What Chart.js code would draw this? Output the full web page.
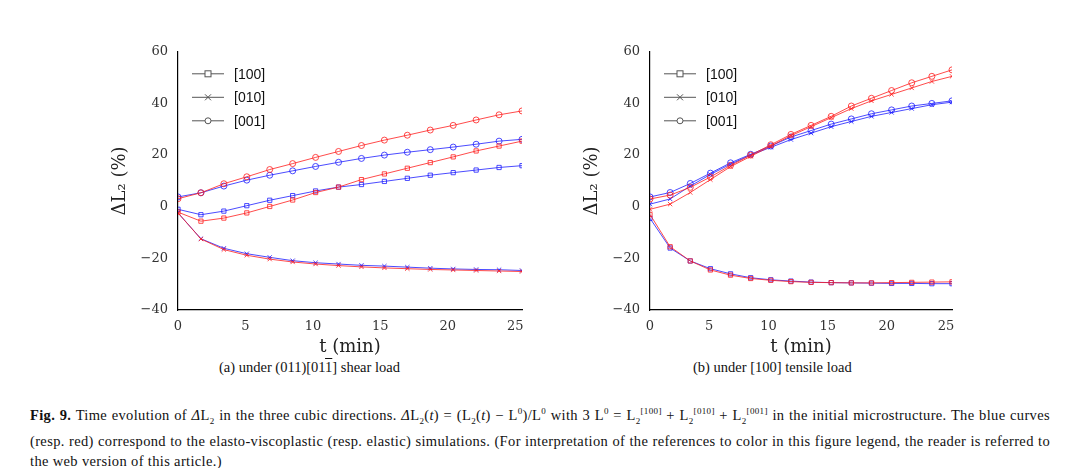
<!DOCTYPE html>
<html>
<head>
<meta charset="utf-8">
<script src="https://cdn.jsdelivr.net/npm/chart.js@4"></script>
<style>
  body { margin: 0; background: #fff; width: 1080px; height: 468px; position: relative; font-family: "Liberation Serif", serif; }
  .box { position: absolute; }
  .sub { position: absolute; font-size: 14.5px; color: #111; }
  .cap { position: absolute; left: 30px; top: 401px; width: 1020px; font-size: 14.5px; letter-spacing: 0.35px; line-height: 20px; color: #111; text-align: justify; }
  sub, sup { font-size: 9px; }
</style>
</head>
<body>
<div class="box" style="left:110px;top:42px;width:420px;height:316px"><canvas id="left"></canvas></div>
<div class="box" style="left:582px;top:42px;width:378px;height:316px"><canvas id="right"></canvas></div>
<div class="sub" style="left:219px;top:359px">(a) under (011)[01<span style="text-decoration:overline">1</span>] shear load</div>
<div class="sub" style="left:693px;top:359px">(b) under [100] tensile load</div>
<div class="cap"><b>Fig. 9.</b> Time evolution of <i>Δ</i>L<sub>2</sub> in the three cubic directions. <i>Δ</i>L<sub>2</sub>(<i>t</i>) = (L<sub>2</sub>(<i>t</i>) − L<sup>0</sup>)/L<sup>0</sup> with 3 L<sup>0</sup> = L<sub>2</sub><sup>[100]</sup> + L<sub>2</sub><sup>[010]</sup> + L<sub>2</sub><sup>[001]</sup> in the initial microstructure. The blue curves (resp. red) correspond to the elasto-viscoplastic (resp. elastic) simulations. (For interpretation of the references to color in this figure legend, the reader is referred to the web version of this article.)</div>
<script>
const times = [0, 1.7, 3.4, 5.1, 6.8, 8.5, 10.2, 11.9, 13.6, 15.3, 17, 18.7, 20.4, 22.1, 23.8, 25.5];

const shear = {
  blue: {
    '[100]': [-1, -3.1, -1.7, 0.4, 2.5, 4.3, 6.1, 7.6, 8.6, 9.8, 11, 12.2, 13.2, 14.2, 15.2, 15.9],
    '[010]': [-2.4, -12.4, -16.1, -18.2, -19.6, -20.9, -21.7, -22.2, -22.7, -23, -23.4, -23.8, -24.1, -24.3, -24.4, -24.7],
    '[001]': [3.8, 5.4, 8, 10.3, 12.2, 13.9, 15.6, 17.2, 18.7, 20, 21.1, 22.1, 23.1, 24.2, 25.4, 26.1]
  },
  red: {
    '[100]': [-2.1, -5.6, -4.4, -2.4, 0.1, 2.6, 5.5, 7.6, 10.5, 12.7, 14.9, 17.1, 19.3, 21.6, 23.5, 25.4],
    '[010]': [-2.4, -12.5, -16.6, -18.8, -20.3, -21.4, -22.2, -22.8, -23.3, -23.7, -24, -24.3, -24.5, -24.7, -24.9, -25.1],
    '[001]': [3.1, 5.4, 8.9, 11.6, 14.4, 16.7, 19.1, 21.4, 23.7, 25.8, 27.7, 29.7, 31.5, 33.6, 35.6, 37.1]
  }
};

const tensile = {
  blue: {
    '[100]': [-4.5, -16, -21, -24, -26, -27.5, -28.3, -28.8, -29.2, -29.4, -29.5, -29.6, -29.7, -29.7, -29.8, -29.8],
    '[010]': [1, 3, 8, 12.5, 16.5, 20, 23, 26, 28.5, 31, 33, 35, 36.5, 38, 39.5, 40.5],
    '[001]': [3.8, 5.5, 9, 13, 17, 20.3, 23.5, 27, 29.5, 32, 34, 36, 37.5, 39, 40, 41]
  },
  red: {
    '[100]': [-3, -15.5, -21, -24.5, -26.5, -27.8, -28.5, -29, -29.3, -29.4, -29.5, -29.5, -29.4, -29.3, -29.2, -29.1],
    '[010]': [-1, 1, 5.5, 10.5, 15.5, 19.5, 23.5, 27.5, 31, 34.5, 38, 41, 43.5, 46, 48.5, 50.5],
    '[001]': [3, 4.5, 7.5, 11.5, 16, 20, 24, 28, 31.5, 35, 39, 42, 45, 48, 50.5, 53]
  }
};

const markers = { '[100]': 'rect', '[010]': 'crossRot', '[001]': 'circle' };
const colors = { blue: 'rgba(30,30,255,0.8)', red: 'rgba(255,30,30,0.8)' };
const serif = '"DejaVu Serif", serif';

// gray legend drawn by hand, like matplotlib's
const legendPlugin = {
  id: 'handLegend',
  afterDraw(chart) {
    const ctx = chart.ctx, a = chart.chartArea;
    ['[100]', '[010]', '[001]'].forEach((name, i) => {
      const y = a.top + 22 + i * 23.5;
      const x0 = a.left + 14, x1 = a.left + 46, xm = (x0 + x1) / 2;
      ctx.save();
      ctx.strokeStyle = '#555';
      ctx.lineWidth = 1;
      ctx.beginPath(); ctx.moveTo(x0, y); ctx.lineTo(x1, y); ctx.stroke();
      ctx.fillStyle = '#fff';
      if (markers[name] === 'rect') { ctx.fillRect(xm - 3, y - 3, 6, 6); ctx.strokeRect(xm - 3, y - 3, 6, 6); }
      else if (markers[name] === 'circle') { ctx.beginPath(); ctx.arc(xm, y, 3, 0, Math.PI * 2); ctx.fill(); ctx.stroke(); }
      else { ctx.beginPath(); ctx.moveTo(xm - 3, y - 3); ctx.lineTo(xm + 3, y + 3); ctx.moveTo(xm + 3, y - 3); ctx.lineTo(xm - 3, y + 3); ctx.stroke(); }
      ctx.fillStyle = '#111';
      ctx.font = '14px "Liberation Sans", sans-serif';
      ctx.textBaseline = 'middle';
      ctx.fillText(name, a.left + 56, y + 1);
      ctx.restore();
    });
  }
};

function makeChart(id, set) {
  const datasets = [];
  ['red', 'blue'].forEach(c => {
    Object.keys(set[c]).forEach(name => {
      datasets.push({
        data: set[c][name].map((v, i) => ({ x: times[i], y: v })),
        borderColor: colors[c],
        backgroundColor: 'rgba(0,0,0,0)',
        borderWidth: 1,
        pointStyle: markers[name],
        pointRadius: 3,
        pointBorderWidth: 1,
        tension: 0
      });
    });
  });
  new Chart(document.getElementById(id), {
    type: 'line',
    data: { datasets },
    plugins: [legendPlugin],
    options: {
      animation: false,
      responsive: true,
      maintainAspectRatio: false,
      layout: { padding: { top: 8, right: 8 } },
      plugins: { legend: { display: false }, tooltip: { enabled: false } },
      scales: {
        x: {
          type: 'linear', min: 0, max: 25.5,
          border: { color: '#000', width: 1.2 },
          grid: { display: false, drawTicks: true },
          ticks: { color: '#333', font: { family: serif, size: 13 }, padding: 1 },
          afterBuildTicks: ax => { ax.ticks = [0, 5, 10, 15, 20, 25].map(v => ({ value: v })); },
          title: { display: true, text: 't (min)', color: '#222', font: { family: serif, size: 18 }, padding: 0 },
          afterFit: ax => { ax.height = 48; }
        },
        y: {
          min: -40, max: 60,
          border: { color: '#000', width: 1.2 },
          grid: { display: false },
          ticks: { color: '#333', font: { family: serif, size: 13 }, stepSize: 20, padding: 2,
                   callback: v => String(v).replace('-', '−') },
          title: { display: true, text: 'ΔL₂ (%)', color: '#222', font: { family: serif, size: 18 }, padding: 0 },
          afterFit: ax => { ax.width = 68; }
        }
      }
    }
  });
}

makeChart('left', shear);
makeChart('right', tensile);
</script>
</body>
</html>
